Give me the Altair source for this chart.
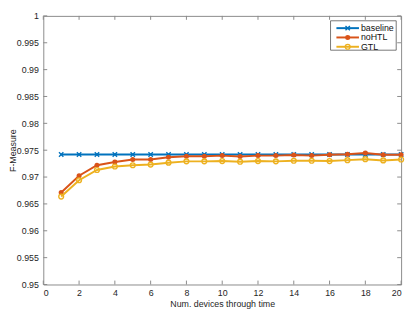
import altair as alt
import pandas as pd

# ---- data ----
x_vals = list(range(1, 21))
series_names = ["baseline", "noHTL", "GTL"]
baseline_vals = [0.9742] * 20
nohtl_vals = [0.96714, 0.97024, 0.97220, 0.97280, 0.97327, 0.97327, 0.97369, 0.97387, 0.97387, 0.97399,
              0.97381, 0.97399, 0.97399, 0.97411, 0.97399, 0.97417, 0.97423, 0.97446, 0.97417, 0.97417]
gtl_vals = [0.96637, 0.96941, 0.97131, 0.97196, 0.97220, 0.97232, 0.97268, 0.97292, 0.97292, 0.97298,
            0.97286, 0.97298, 0.97292, 0.97304, 0.97304, 0.97298, 0.97315, 0.97333, 0.97310, 0.97327]
colors = ["#0072BD", "#D95319", "#EDB120"]
x_ticks = list(range(0, 21, 2))
y_ticks = [0.95, 0.955, 0.96, 0.965, 0.97, 0.975, 0.98, 0.985, 0.99, 0.995, 1.0]

W, H = 365, 274
FONT = "Liberation Sans"
FRAME = "#8a8a8a"
TXT = "#262626"

values = {"baseline": baseline_vals, "noHTL": nohtl_vals, "GTL": gtl_vals}
df = pd.DataFrame([
    {"series": s, "x": x, "y": v}
    for s in series_names for x, v in zip(x_vals, values[s])
])

x_scale = alt.Scale(domain=[0, 20], nice=False, zero=False)
y_scale = alt.Scale(domain=[0.95, 1.0], nice=False, zero=False)

x_axis = alt.Axis(values=x_ticks, format="d", grid=False, domain=False, ticks=False,
                  labelPadding=4, labelFontSize=9, labelFont=FONT, labelColor=TXT,
                  title="Num. devices through time", titleFontSize=9, titleFont=FONT,
                  titleColor=TXT, titleFontWeight="normal", titlePadding=2)
y_axis = alt.Axis(values=y_ticks, format="~g", grid=False, domain=False, ticks=False,
                  labelPadding=5, labelFontSize=9, labelFont=FONT, labelColor=TXT,
                  title="F-Measure", titleFontSize=9, titleFont=FONT, titleColor=TXT,
                  titleFontWeight="normal", titleX=-31, titleBaseline="middle")

X = alt.X("x:Q", scale=x_scale, axis=x_axis)
Y = alt.Y("y:Q", scale=y_scale, axis=y_axis)

marker = {
    "baseline": dict(shape="M-1,-1L1,1M-1,1L1,-1", filled=False, size=20, strokeWidth=1.4),
    "noHTL": dict(shape="circle", filled=True, size=26, strokeWidth=1),
    "GTL": dict(shape="circle", filled=False, size=24, strokeWidth=1.4),
}

layers = []
# tick marks (inside, on all four sides)
xt = pd.DataFrame({"x": x_ticks})
yt = pd.DataFrame({"y": y_ticks})
layers.append(alt.Chart(xt).mark_rule(color=FRAME, strokeWidth=1).encode(
    x=X, y=alt.value(H), y2=alt.value(H - 4)))
layers.append(alt.Chart(xt).mark_rule(color=FRAME, strokeWidth=1).encode(
    x=X, y=alt.value(0), y2=alt.value(4)))
layers.append(alt.Chart(yt).mark_rule(color=FRAME, strokeWidth=1).encode(
    y=Y, x=alt.value(0), x2=alt.value(4)))
layers.append(alt.Chart(yt).mark_rule(color=FRAME, strokeWidth=1).encode(
    y=Y, x=alt.value(W), x2=alt.value(W - 4)))

for name, col in zip(series_names, colors):
    sub = df[df.series == name]
    layers.append(alt.Chart(sub).mark_line(color=col, strokeWidth=2).encode(x=X, y=Y))
    layers.append(alt.Chart(sub).mark_point(color=col, opacity=1, **marker[name]).encode(x=X, y=Y))

# legend box
one = pd.DataFrame({"a": [0]})
layers.append(alt.Chart(one).mark_rect(fill="white", stroke="#555555", strokeWidth=0.8).encode(
    x=alt.value(W - 72), x2=alt.value(W - 5), y=alt.value(5), y2=alt.value(35)))
for i, (name, col) in enumerate(zip(series_names, colors)):
    yy = 12.5 + 9.5 * i
    ld = pd.DataFrame({"name": [name]})
    layers.append(alt.Chart(ld).mark_rule(color=col, strokeWidth=2).encode(
        x=alt.value(W - 66), x2=alt.value(W - 43), y=alt.value(yy)))
    layers.append(alt.Chart(ld).mark_point(color=col, opacity=1, **marker[name]).encode(
        x=alt.value(W - 54.5), y=alt.value(yy)))
    layers.append(alt.Chart(ld).mark_text(align="left", baseline="middle", font=FONT,
                                          fontSize=9, color="#111111").encode(
        x=alt.value(W - 41), y=alt.value(yy), text="name:N"))

chart = alt.layer(*layers).properties(
    width=W, height=H,
    autosize=alt.AutoSizeParams(type="none"),
    padding={"left": 36, "top": 5, "right": 6, "bottom": 25},
).configure_view(stroke=FRAME, strokeWidth=1)

chart.save("out.html", embed_options={"renderer": "svg", "actions": False})
